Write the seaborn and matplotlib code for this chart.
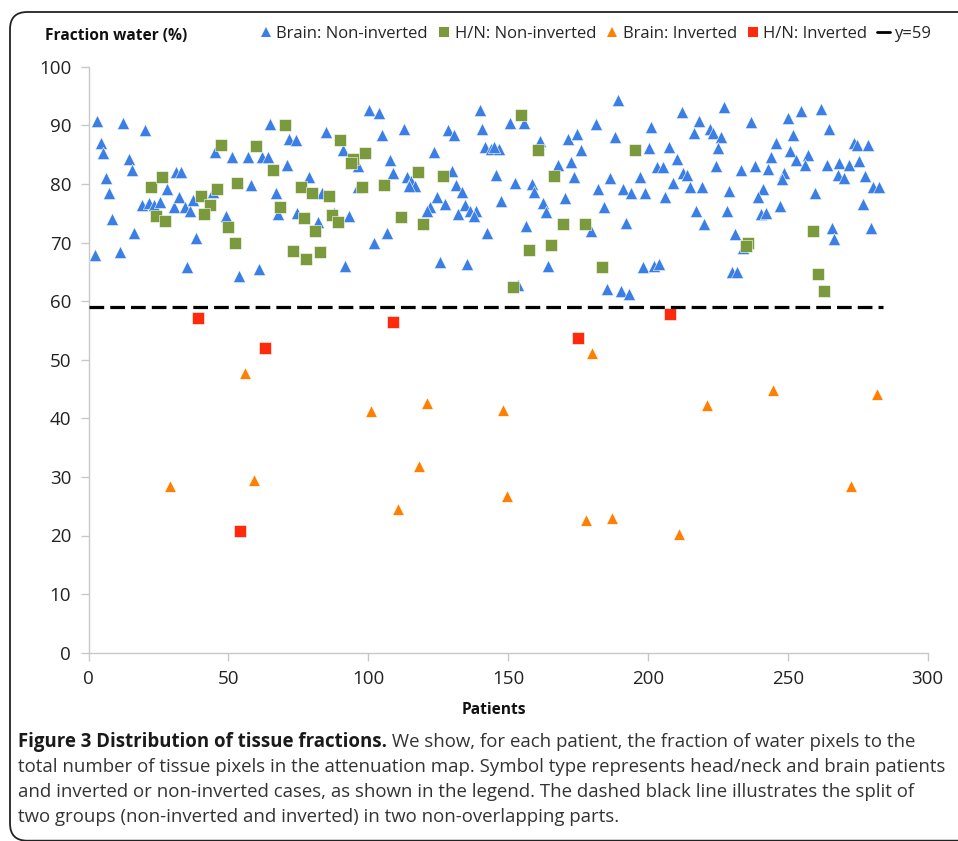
import matplotlib
matplotlib.use("Agg")
import pandas as pd
import matplotlib.pyplot as plt
import seaborn as sns
from matplotlib.lines import Line2D
from matplotlib.patches import FancyBboxPatch

# values (patient index, fraction water %)
brain_noninv_x = [
    3.2, 12.4, 20.1, 4.4, 5.3, 14.5, 15.4, 6.3, 7.4, 8.3, 2.4, 11.3, 16.2, 19.3,
    21.6, 23.3, 25.5, 28.2, 31.2, 33.2, 30.5, 32.3, 34.4, 36.4, 37.3, 38.3, 35.3,
    44.4, 45.3, 51.2, 49.0, 53.9, 57.1, 58.1, 61.0, 62.0, 64.3, 64.9, 66.9, 67.8,
    71.7, 74.0, 85.0, 100.1, 103.7, 104.9, 112.8, 128.6, 130.7, 123.6, 90.9, 96.3,
    107.8, 108.8, 71.1, 79.0, 83.5, 74.7, 82.1, 87.7, 93.0, 96.3, 91.8, 101.9,
    106.6, 113.8, 115.3, 116.7, 114.6, 129.8, 131.3, 133.6, 124.7, 122.0, 127.4,
    120.9, 134.5, 132.1, 136.3, 125.6, 135.4,
    138.6, 137.8, 139.8, 140.7, 141.6, 144.0, 146.6, 144.9, 150.7, 155.6, 145.5,
    152.5, 147.5, 142.6, 158.4, 159.4, 156.4, 161.5, 162.4, 163.5, 164.3, 153.7,
    167.7, 172.4, 173.4, 171.5, 174.5, 176.2, 170.4, 179.5, 181.3, 182.1, 184.3,
    189.3, 188.1, 186.3, 192.2, 191.0, 194.1, 197.3, 199.1, 200.5, 201.1, 203.2,
    185.2, 190.2, 193.1, 198.3, 202.0, 204.1,
    205.2, 212.3, 218.3, 216.3, 222.2, 223.4, 226.0, 225.1, 227.2, 207.4, 210.3,
    212.7, 213.9, 209.1, 206.2, 215.1, 219.2, 224.2, 217.2, 220.0, 228.9, 228.1,
    231.1, 229.9, 232.0, 233.1, 237.0, 238.2, 233.8, 241.1, 239.4, 240.5, 242.3,
    242.9, 244.1, 245.9, 248.8, 248.0, 247.1, 250.0, 252.0, 250.9, 253.0, 254.8,
    257.1, 256.0, 261.9, 264.8, 259.8, 263.9, 268.4, 271.7, 275.5, 267.8, 270.2,
    273.7, 274.9, 278.8, 277.6, 280.5, 282.6, 276.7, 279.7, 265.7, 266.6,
]
brain_noninv_y = [
    90.7, 90.4, 89.2, 87.0, 85.2, 84.2, 82.4, 81.0, 78.4, 74.0, 67.9, 68.4, 71.6, 76.4,
    76.8, 76.4, 76.9, 79.2, 82.1, 82.1, 76.0, 77.7, 76.0, 75.4, 77.3, 70.8, 65.8,
    78.6, 85.4, 84.6, 74.5, 64.2, 84.6, 79.8, 65.5, 84.6, 84.6, 90.3, 78.5, 74.8,
    87.6, 87.5, 88.8, 92.6, 92.1, 88.4, 89.4, 89.2, 88.4, 85.4, 85.7, 83.0,
    84.0, 81.9, 83.3, 81.2, 78.4, 75.1, 73.5, 75.1, 74.5, 79.4, 66.0, 70.0,
    71.7, 81.2, 80.5, 79.6, 79.6, 82.2, 79.8, 78.6, 77.7, 76.0, 76.5,
    75.4, 76.4, 74.8, 75.4, 66.6, 66.3,
    75.4, 74.6, 92.6, 89.3, 86.3, 85.9, 85.9, 86.3, 90.4, 90.4, 81.5,
    80.2, 77.1, 71.7, 79.9, 78.6, 72.8, 87.4, 76.8, 75.2, 66.0, 62.8,
    83.3, 83.7, 81.2, 87.7, 88.5, 85.7, 77.6, 72.0, 90.2, 79.1, 76.1,
    94.3, 88.0, 81.0, 73.3, 79.1, 78.4, 81.2, 78.4, 86.2, 89.7, 82.8,
    62.1, 61.7, 61.2, 65.8, 66.0, 66.4,
    82.9, 92.2, 90.7, 88.7, 89.3, 88.7, 88.0, 86.1, 93.1, 86.3, 84.2,
    81.9, 81.6, 80.1, 77.8, 79.5, 79.5, 83.0, 75.4, 73.1, 78.8, 75.3,
    71.4, 64.9, 64.9, 82.3, 90.5, 83.1, 69.1, 79.2, 77.8, 74.8, 75.0,
    82.5, 84.6, 87.0, 81.9, 80.8, 76.2, 91.2, 88.4, 85.6, 84.1, 92.4,
    85.0, 83.3, 92.7, 89.4, 78.5, 83.3, 83.6, 83.3, 83.9, 81.6, 81.0,
    87.0, 86.7, 86.6, 81.3, 79.5, 79.5, 76.5, 72.4, 72.5, 70.6,
]

hn_noninv_x = [
    22.3, 26.3, 24.3, 27.3, 47.2, 40.3, 43.3, 41.2, 46.0, 53.1, 50.0, 52.2, 59.8,
    66.0, 68.4, 70.1, 89.8, 98.9, 94.6, 93.8, 76.1, 80.0, 85.9, 77.0, 86.9, 89.1,
    80.9, 73.1, 77.9, 82.9, 97.8, 105.8, 117.7, 126.6, 111.7, 119.7, 154.6, 160.6,
    166.5, 169.5, 177.4, 157.6, 165.3, 183.4, 151.7, 195.3, 235.8, 234.9, 258.9,
    260.9, 262.8,
]
hn_noninv_y = [
    79.5, 81.2, 74.5, 73.6, 86.6, 77.9, 76.4, 74.9, 79.1, 80.1, 72.7, 69.9, 86.4,
    82.4, 76.1, 90.1, 87.5, 85.3, 84.2, 83.5, 79.5, 78.4, 77.9, 74.1, 74.7, 73.5,
    71.9, 68.5, 67.2, 68.3, 79.5, 79.8, 82.1, 81.3, 74.3, 73.2, 91.8, 85.7,
    81.3, 73.2, 73.1, 68.8, 69.6, 65.9, 62.4, 85.8, 70.0, 69.4, 72.0,
    64.7, 61.8,
]

brain_inv_x = [29, 56, 59, 101, 121, 118, 110.5, 148, 149.7, 178, 180, 187, 211,
               221, 244.6, 272.7, 282]
brain_inv_y = [28.5, 47.7, 29.5, 41.2, 42.6, 31.8, 24.5, 41.5, 26.8, 22.7, 51.1,
               23.0, 20.3, 42.3, 44.8, 28.4, 44.1]

hn_inv_x = [39, 63, 54, 109, 175, 208]
hn_inv_y = [57.2, 52.0, 20.7, 56.5, 53.7, 57.8]

split_value = 59
n_patients = 284

groups = [
    ("Brain: Non-inverted", brain_noninv_x, brain_noninv_y, "^", "#3b7fe6", 78),
    ("H/N: Non-inverted", hn_noninv_x, hn_noninv_y, "s", "#7b9a3d", 64),
    ("Brain: Inverted", brain_inv_x, brain_inv_y, "^", "#ff8000", 70),
    ("H/N: Inverted", hn_inv_x, hn_inv_y, "s", "#ff2a0c", 64),
]

sns.set_theme(style="white")
plt.rcParams["font.family"] = ["Open Sans", "DejaVu Sans"]

W, H = 958, 841
fig = plt.figure(figsize=(W / 100, H / 100), dpi=100)
ax = fig.add_axes([88.5 / W, 1 - 652.7 / H, (927.7 - 88.5) / W, (652.7 - 66.7) / H])

for label, xs, ys, marker, color, size in groups:
    d = pd.DataFrame({"patient": xs, "water": ys})
    sns.scatterplot(data=d, x="patient", y="water", marker=marker, color=color,
                    s=size, edgecolor="white", linewidth=0.4, ax=ax, zorder=3,
                    clip_on=False)

ax.plot([0, n_patients], [split_value, split_value], color="black", lw=2.3,
        dashes=(4.6, 1.9), zorder=4)

ax.set_xlim(0, 300)
ax.set_ylim(0, 100)
ax.set_xticks(range(0, 301, 50))
ax.set_yticks(range(0, 101, 10))
ax.set_xlabel("")
ax.set_ylabel("")
for side in ["top", "right"]:
    ax.spines[side].set_visible(False)
for side in ["left", "bottom"]:
    ax.spines[side].set_color("#c8c8c8")
    ax.spines[side].set_linewidth(1.0)
ax.tick_params(axis="both", which="major", direction="out", length=5.5, width=1,
               color="#c8c8c8", labelsize=13.5, labelcolor="#222222", pad=7,
               left=True, bottom=True)

fig.text(45 / W, 1 - 36.5 / H, "Fraction water (%)", fontsize=11.2,
         fontweight="bold", va="center", ha="left", color="#111111")
fig.text(494 / W, 1 - 710 / H, "Patients", fontsize=11.2, fontweight="bold",
         va="center", ha="center", color="#111111")

handles = [Line2D([], [], marker=m, color=c, linestyle="none", markersize=7.5,
                  markeredgewidth=0) for _, _, _, m, c, _ in groups]
handles.append(Line2D([], [], color="black", lw=2))
labels = [g[0] for g in groups] + [f"y={split_value}"]
fig.legend(handles, labels, loc="center", bbox_to_anchor=(595 / W, 1 - 34 / H),
           ncol=5, frameon=False, fontsize=12, handlelength=0.8,
           handletextpad=0.25, columnspacing=0.55, borderpad=0, borderaxespad=0)

# caption below the chart
cap_fs = 13.4
cap_x = 18
cap_lines_y = [742, 767, 792, 817]
bold_part = "Figure 3 Distribution of tissue fractions."
rest_part = " We show, for each patient, the fraction of water pixels to the"
other_lines = [
    "total number of tissue pixels in the attenuation map. Symbol type represents head/neck and brain patients",
    "and inverted or non-inverted cases, as shown in the legend. The dashed black line illustrates the split of",
    "two groups (non-inverted and inverted) in two non-overlapping parts.",
]
t_bold = fig.text(cap_x / W, 1 - cap_lines_y[0] / H, bold_part, fontsize=cap_fs,
                  fontweight="bold", va="center", ha="left", color="#1a1a1a")
renderer = fig.canvas.get_renderer()
bb = t_bold.get_window_extent(renderer=renderer)
fig.text(bb.x1 / W, 1 - cap_lines_y[0] / H, rest_part, fontsize=cap_fs,
         va="center", ha="left", color="#333333")
for line, yy in zip(other_lines, cap_lines_y[1:]):
    fig.text(cap_x / W, 1 - yy / H, line, fontsize=cap_fs, va="center", ha="left",
             color="#333333")

# rounded frame around the whole figure
frame = FancyBboxPatch((10 / W, 0.3 / H), 1.2, (H - 12) / H - 0.3 / H,
                       boxstyle="round,pad=0,rounding_size=0.018",
                       transform=fig.transFigure, fill=False, edgecolor="#222222",
                       linewidth=1.3, clip_on=False, mutation_aspect=W / H)
fig.patches.append(frame)

fig.savefig("out.png", dpi=100)
